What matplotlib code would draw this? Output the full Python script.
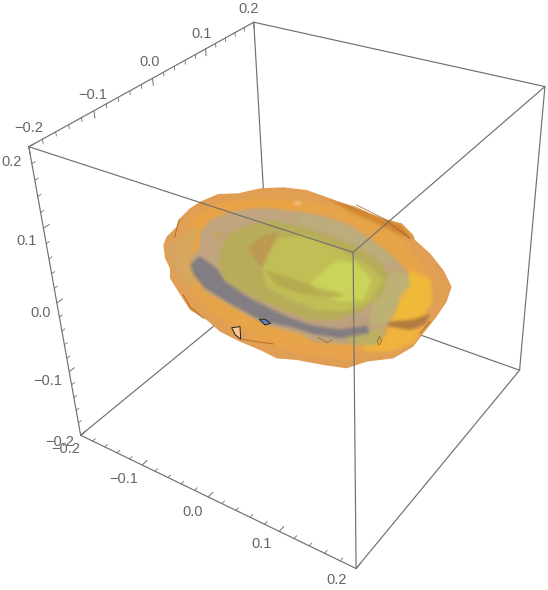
import numpy as np
import matplotlib
matplotlib.use('Agg')
import matplotlib.pyplot as plt

plt.rcParams['font.family'] = ['Liberation Sans', 'DejaVu Sans']

W, H = 548, 590
EDGE = '#707070'
TEXT = '#666666'

# box corners: cube coordinates and where they land in the picture
cube_corners = [(-.2, -.2, .2), (.2, -.2, .2), (-.2, .2, .2), (.2, .2, .2),
                (-.2, -.2, -.2), (.2, -.2, -.2), (-.2, .2, -.2), (.2, .2, -.2)]
pixel_corners = [(29, 146), (352.5, 253), (254, 22), (545, 87),
                 (81, 435), (356, 569), (268, 282), (520, 369)]

# tick values
major_ticks = [-0.2, -0.1, 0.0, 0.1, 0.2]
minor_ticks = [-0.18, -0.16, -0.14, -0.12, -0.08, -0.06, -0.04, -0.02,
               0.02, 0.04, 0.06, 0.08, 0.12, 0.14, 0.16, 0.18]
tick_labels = ['\u22120.2', '\u22120.1', '0.0', '0.1', '0.2']

# label centres
top_label_pos = [(29, 128), (93, 95), (150, 62), (202, 34), (249, 9)]
left_label_pos = [(60, 442), (48, 381), (41, 313), (27, 241), (12, 162)]
bottom_label_pos = [(66, 449), (124, 479), (193, 512), (262, 544), (337, 580)]

# blob outlines, in pixels of a 3x crop starting at (150, 170)
outer = [(40, 225), (50, 200), (80, 170), (85, 150), (120, 115), (150, 95), (205, 72), (265, 70),
         (330, 55), (400, 52), (470, 60), (540, 85), (620, 115), (700, 145), (755, 160), (790, 195),
         (795, 210), (840, 250), (880, 300), (905, 350), (890, 395), (860, 440), (820, 490), (790, 530),
         (730, 565), (650, 575), (590, 595), (520, 585), (440, 570), (380, 565), (330, 540), (270, 515),
         (210, 485), (170, 450), (120, 420), (85, 365), (60, 325), (60, 295), (45, 265)]
outer_light = [(150, 130), (220, 95), (330, 85), (450, 90), (560, 110), (670, 150), (740, 190), (800, 260),
               (850, 330), (830, 420), (790, 480), (700, 520), (600, 545), (480, 530), (380, 510), (280, 480),
               (200, 440), (140, 380), (95, 310), (90, 230)]
upper_band = [(120, 150), (210, 100), (330, 90), (420, 95), (520, 110), (430, 120), (300, 115), (200, 130),
              (150, 180)]
top_rim = [(530, 85), (620, 110), (700, 150), (755, 165), (785, 205), (750, 195), (690, 165), (610, 130)]
right_yellow = [(780, 300), (840, 330), (850, 390), (820, 440), (770, 465), (720, 460), (700, 440), (725, 410),
                (760, 370)]
lower_yellow = [(700, 510), (720, 470), (790, 480), (825, 470), (790, 520), (720, 545), (640, 545), (640, 530)]
lower_band = [(290, 490), (380, 500), (480, 525), (600, 540), (620, 570), (500, 560), (390, 540), (300, 510)]
right_stripe = [(660, 432), (720, 455), (790, 448), (840, 432), (825, 462), (780, 480), (720, 470)]
left_green = [(45, 235), (90, 205), (140, 170), (125, 260), (150, 340), (110, 350), (70, 300)]
middle = [(120, 285), (130, 255), (150, 235), (150, 190), (180, 150), (230, 130), (300, 115), (370, 115),
          (450, 125), (530, 140), (600, 165), (660, 205), (730, 260), (775, 310), (780, 345), (750, 385),
          (735, 430), (710, 465), (700, 500), (680, 525), (620, 525), (540, 520), (490, 515), (450, 490),
          (400, 480), (340, 460), (290, 435), (230, 400), (160, 360), (145, 330)]
upper_pale = [(440, 130), (530, 145), (610, 175), (680, 225), (740, 275), (700, 280), (620, 225), (530, 185),
              (450, 165)]
dark_band = [(120, 285), (148, 258), (200, 295), (225, 335), (300, 385), (400, 435), (480, 465), (570, 478),
             (650, 465), (660, 495), (570, 505), (490, 492), (420, 470), (340, 455), (230, 395), (160, 350),
             (132, 315)]
tan_band = [(230, 335), (300, 375), (400, 425), (490, 452), (570, 455), (650, 430), (665, 465), (570, 478),
            (480, 465), (400, 435), (300, 385)]
lower_olive = [(590, 500), (650, 490), (700, 470), (695, 505), (675, 525), (610, 525)]
inner = [(205, 285), (215, 230), (240, 190), (300, 165), (370, 150), (450, 170), (530, 195), (610, 225),
         (680, 265), (715, 310), (700, 370), (640, 420), (560, 450), (480, 450), (400, 420), (330, 390),
         (270, 360), (225, 330)]
core = [(335, 295), (380, 205), (470, 195), (570, 240), (660, 290), (700, 330), (660, 395), (590, 425),
        (500, 420), (420, 390), (350, 350)]
core_bright = [(480, 340), (560, 270), (620, 280), (665, 330), (640, 390), (570, 395), (500, 375)]
orange_patch = [(295, 235), (340, 195), (385, 190), (350, 260), (335, 295)]
brown_patch = [(345, 300), (420, 325), (510, 355), (590, 375), (540, 385), (450, 370), (380, 345)]
right_pale = [(660, 460), (670, 390), (730, 300), (775, 315), (778, 345), (745, 390), (730, 435), (705, 465)]
peach_hole = [(245, 473), (270, 470), (272, 507), (256, 495)]
peach_spot = [(430, 96), (445, 93), (458, 103), (443, 106)]
blue_spot = [(328, 448), (345, 448), (362, 460), (345, 465)]
tan_diamond = [(188, 195), (205, 180), (218, 192), (205, 210)]

# thin creases on the surface
creases = [[(272, 507), (320, 515), (370, 522)],
           [(100, 375), (120, 410), (160, 445)],
           [(88, 150), (80, 175), (75, 200)],
           [(620, 105), (700, 145), (780, 205)],
           [(810, 490), (840, 455)],
           [(505, 503), (530, 518), (545, 510)],
           [(688, 500), (682, 515), (688, 525), (695, 510), (688, 500)]]

blob_layers = [
    (outer, '#e09c4e', 0.97),
    (outer_light, '#eca843', 0.6),
    (upper_band, '#f0a640', 0.5),
    (top_rim, '#c9771f', 0.6),
    (left_green, '#cfab68', 0.65),
    (right_yellow, '#f2bd38', 0.85),
    (lower_yellow, '#f3b83c', 0.85),
    (lower_band, '#f0a54a', 0.6),
    (right_stripe, '#a8743f', 0.85),
    (middle, '#bda684', 0.92),
    (upper_pale, '#b9b37c', 0.7),
    (right_pale, '#bdb672', 0.8),
    (dark_band, '#6e7084', 0.75),
    (tan_band, '#bd9f80', 0.75),
    (lower_olive, '#bcb45e', 0.8),
    (inner, '#b5b051', 0.8),
    (orange_patch, '#c09350', 0.75),
    (core, '#c2c255', 0.85),
    (core_bright, '#ced95b', 0.85),
    (brown_patch, '#ad9f4e', 0.6),
    (peach_spot, '#f3c594', 1.0),
    (tan_diamond, '#c9a25e', 1.0),
]


def from_crop(points):
    pts = np.array(points, dtype=float)
    return 150 + pts[:, 0] / 3, 170 + pts[:, 1] / 3


def soften(rgb, passes=3):
    # box blur, the shading on the surface has no hard edges
    out = rgb.copy()
    for _ in range(passes):
        for axis in (0, 1):
            out = (out + np.roll(out, 1, axis=axis) + np.roll(out, -1, axis=axis)) / 3
    return out


# fit a perspective camera to the corners so the ticks follow the box
rows = []
for (x, y, z), (u, v) in zip(cube_corners, pixel_corners):
    rows.append([x, y, z, 1, 0, 0, 0, 0, -u * x, -u * y, -u * z, -u])
    rows.append([0, 0, 0, 0, x, y, z, 1, -v * x, -v * y, -v * z, -v])
camera = np.linalg.svd(np.array(rows))[2][-1].reshape(3, 4)


def project(x, y, z):
    p = camera @ np.array([x, y, z, 1.0])
    return p[0] / p[2], p[1] / p[2]


def edge(ax, a, b, zorder, lw=0.85, color=EDGE):
    pa, pb = project(*a), project(*b)
    ax.plot([pa[0], pb[0]], [pa[1], pb[1]], color=color, lw=lw, zorder=zorder, solid_capstyle='round')


def new_axes():
    fig = plt.figure(figsize=(W / 100, H / 100), dpi=100)
    ax = fig.add_axes([0, 0, 1, 1])
    ax.set_xlim(0, W)
    ax.set_ylim(H, 0)
    ax.axis('off')
    return fig, ax


# paint the blob on its own canvas first, then soften the inside only
blob_fig, blob_ax = new_axes()
blob_fig.patch.set_alpha(0)
for outline, color, alpha in blob_layers:
    xs, ys = from_crop(outline)
    blob_ax.fill(xs, ys, facecolor=color, alpha=alpha, edgecolor='none')
blob_fig.canvas.draw()
blob = np.asarray(blob_fig.canvas.buffer_rgba()).astype(float) / 255
plt.close(blob_fig)

# filling the empty part with the base colour keeps the rim from going pale
mask = blob[:, :, 3] > 0
rgb = blob[:, :, :3].copy()
rgb[~mask] = matplotlib.colors.to_rgb('#dc9a4e')
blob[:, :, :3] = soften(rgb)

fig, ax = new_axes()

# edges behind the blob
s = 0.2
back_edges = [((-s, s, s), (-s, s, -s)), ((-s, -s, -s), (-s, s, -s)), ((-s, s, -s), (s, s, -s))]
for a, b in back_edges:
    edge(ax, a, b, 1)

ax.imshow(blob, extent=(0, W, H, 0), aspect='auto', zorder=2, interpolation='nearest')
ax.set_xlim(0, W)
ax.set_ylim(H, 0)

for line in creases:
    xs, ys = from_crop(line)
    ax.plot(xs, ys, color='#9a5c1c', lw=0.7, alpha=0.7, zorder=3)

for outline, color in [(peach_hole, '#fbc795'), (blue_spot, '#5f86c4')]:
    xs, ys = from_crop(outline)
    ax.fill(xs, ys, facecolor=color, edgecolor='#222222', lw=0.7, zorder=3)

# edges in front of the blob
front_edges = [((-s, -s, s), (s, -s, s)), ((-s, -s, s), (-s, s, s)), ((-s, s, s), (s, s, s)),
               ((s, -s, s), (s, s, s)), ((s, s, s), (s, s, -s)), ((s, -s, s), (s, -s, -s)),
               ((s, -s, -s), (s, s, -s)), ((-s, -s, s), (-s, -s, -s)), ((-s, -s, -s), (s, -s, -s))]
for a, b in front_edges:
    edge(ax, a, b, 4)

# ticks on the three labelled axes
for values, length, width in [(major_ticks, 0.009, 0.7), (minor_ticks, 0.005, 0.6)]:
    for t in values:
        # top axis, ticks go down
        edge(ax, (-s, t, s), (-s, t, s - length), 4, width)
        # left axis, ticks go to the back
        edge(ax, (-s, -s, t), (-s, -s + length, t), 4, width)
        # bottom axis, ticks go to the back
        edge(ax, (t, -s, -s), (t, -s + length, -s), 4, width)

for positions in [top_label_pos, left_label_pos, bottom_label_pos]:
    for (x, y), label in zip(positions, tick_labels):
        ax.text(x, y, label, color=TEXT, fontsize=10.5, ha='center', va='center', zorder=5)

fig.savefig('out.png', dpi=100)
